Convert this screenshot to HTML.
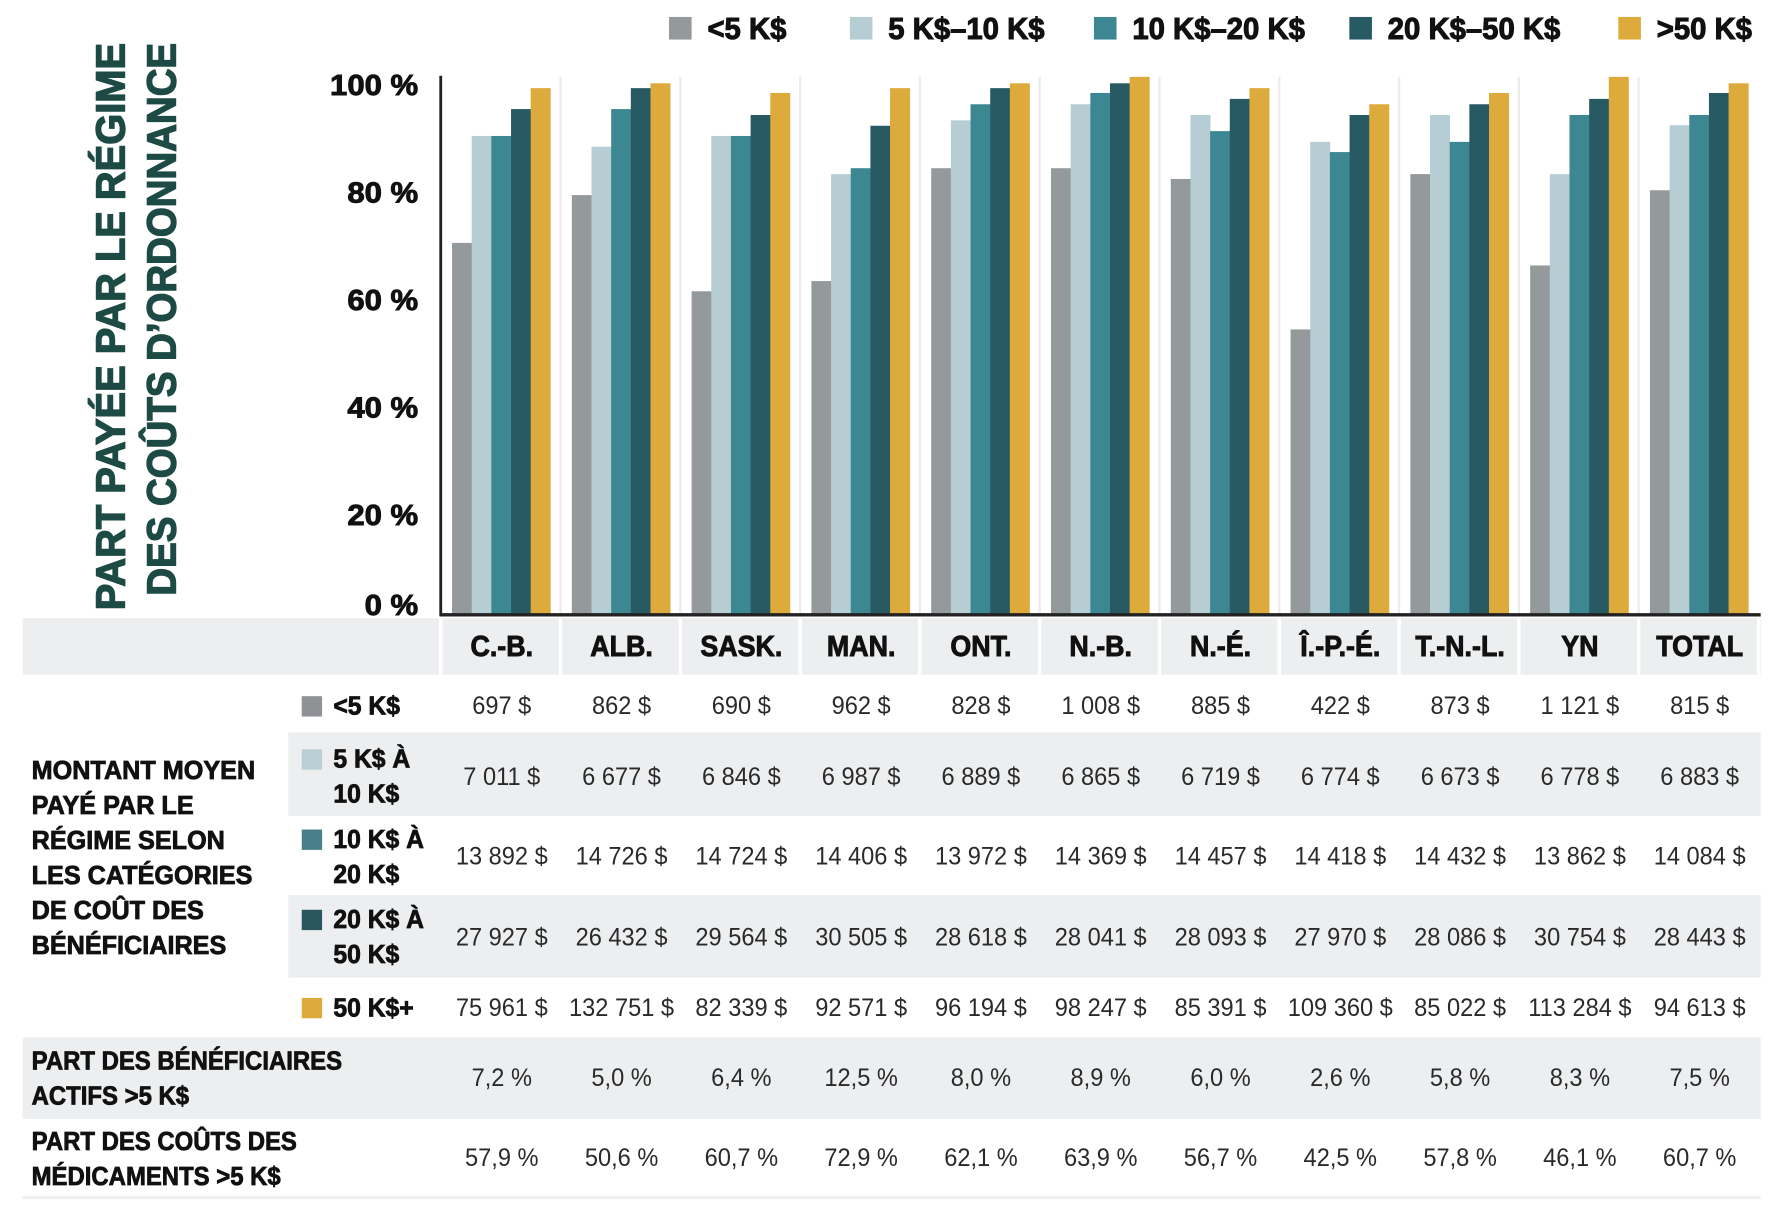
<!DOCTYPE html>
<html><head><meta charset="utf-8"><style>
html,body{margin:0;padding:0;background:#fff;width:1772px;height:1207px;overflow:hidden}
svg{display:block}
text{font-family:"Liberation Sans",sans-serif}
</style></head><body>
<svg id="chart" width="1772" height="1207" viewBox="0 0 1568 1068" preserveAspectRatio="none" xmlns="http://www.w3.org/2000/svg"></svg>
<script>
const categories = ["C.-B.","ALB.","SASK.","MAN.","ONT.","N.-B.","N.-É.","Î.-P.-É.","T.-N.-L.","YN","TOTAL"];
const seriesNames = ["<5 K$","5 K$–10 K$","10 K$–20 K$","20 K$–50 K$",">50 K$"];
const sLt5 = [69.1,78.0,60.1,62.0,83.0,83.0,81.0,53.0,81.9,64.9,78.9];
const s5to10 = [89.0,87.0,89.0,81.9,91.9,94.9,92.9,87.9,92.9,81.9,91.0];
const s10to20 = [89.0,94.0,89.0,83.0,94.9,97.0,89.9,86.0,87.9,92.9,92.9];
const s20to50 = [94.0,97.9,92.9,90.9,97.9,98.8,95.9,92.9,94.9,95.9,97.0];
const sGt50 = [97.9,98.8,97.0,97.9,98.8,100,97.9,94.9,97.0,100,98.8];
const yTicks = [0,20,40,60,80,100];
const yTickLabels = ["0 %","20 %","40 %","60 %","80 %","100 %"];
const avgLt5 = ["697 $","862 $","690 $","962 $","828 $","1 008 $","885 $","422 $","873 $","1 121 $","815 $"];
const avg5to10 = ["7 011 $","6 677 $","6 846 $","6 987 $","6 889 $","6 865 $","6 719 $","6 774 $","6 673 $","6 778 $","6 883 $"];
const avg10to20 = ["13 892 $","14 726 $","14 724 $","14 406 $","13 972 $","14 369 $","14 457 $","14 418 $","14 432 $","13 862 $","14 084 $"];
const avg20to50 = ["27 927 $","26 432 $","29 564 $","30 505 $","28 618 $","28 041 $","28 093 $","27 970 $","28 086 $","30 754 $","28 443 $"];
const avgGt50 = ["75 961 $","132 751 $","82 339 $","92 571 $","96 194 $","98 247 $","85 391 $","109 360 $","85 022 $","113 284 $","94 613 $"];
const shareBenef = ["7,2 %","5,0 %","6,4 %","12,5 %","8,0 %","8,9 %","6,0 %","2,6 %","5,8 %","8,3 %","7,5 %"];
const shareCosts = ["57,9 %","50,6 %","60,7 %","72,9 %","62,1 %","63,9 %","56,7 %","42,5 %","57,8 %","46,1 %","60,7 %"];

const colors = ["#949a9c","#b5cdd3","#3d8793","#285a63","#dcab3c"];
const allSeries = [sLt5,s5to10,s10to20,s20to50,sGt50];
const NS = "http://www.w3.org/2000/svg";
const svg = document.getElementById("chart");
const x0 = 391, gW = 106, baseY = 543.5, topY = 68;
function yScale(v){ return baseY - (baseY-topY)*v/100; }
function gX(i){ return x0 + gW*i; }
function el(tag, attrs, parent){
  const e = document.createElementNS(NS, tag);
  for (const k in attrs) e.setAttribute(k, attrs[k]);
  (parent||svg).appendChild(e); return e;
}
function txt(str, x, y, size, weight, anchor, sx, fill, parent, heavy){
  const g = el("g", {transform:`translate(${x},${y}) scale(${sx},1)`}, parent);
  const a = {x:0, y:0, "font-size":size, "font-weight":weight, "text-anchor":anchor, fill:fill||"#111", "dominant-baseline":"central"};
  if (heavy){ a.stroke = fill||"#111"; a["stroke-width"] = heavy; }
  const t = el("text", a, g);
  t.textContent = str; return t;
}

// Legend
const legX = [592,752,968,1194,1432];
seriesNames.forEach((n,i)=>{
  const r = el("rect",{x:legX[i],y:15,width:20,height:20,fill:colors[i]});
  
  
  const t = txt(n, legX[i]+34, 26, 27, "bold", "start", 0.96, "#111", svg, 0.9);
  
  
});

// Y title
const yt = el("g",{});


[["PART PAYÉE PAR LE RÉGIME",98,38,540],["DES COÛTS D’ORDONNANCE",143,38,527]].forEach(([s,x,yTop,yBot])=>{
  const t = el("text",{x:0,y:0,transform:`translate(${x},${yBot}) rotate(-90)`,"font-size":36,"font-weight":"bold",fill:"#1d4a44",stroke:"#1d4a44","stroke-width":1.2,"dominant-baseline":"central",textLength:(yBot-yTop),lengthAdjust:"spacingAndGlyphs"}, yt);
  t.textContent = s;
});

for (let i=1;i<categories.length;i++){
  const l = el("line",{x1:gX(i)-1,x2:gX(i)-1,y1:topY,y2:baseY,stroke:"#ececec","stroke-width":2});
  
  
}
yTicks.forEach((v,i)=>{
  const y = v===0 ? 536 : yScale(v)+8;
  const t = txt(yTickLabels[i], 370, y, 25, "bold", "end", 1.1, "#111", svg, 0.8);
  
  
});
const bw = 17.4;
categories.forEach((c,i)=>{
  allSeries.forEach((s,j)=>{
    const y = yScale(s[i]);
    const r = el("rect",{x:gX(i)+9+bw*j,y:y,width:bw+0.3,height:baseY-y,fill:colors[j]});
    
    
  });
});
const ax = el("line",{x1:390,x2:390,y1:67,y2:545,stroke:"#222","stroke-width":2.5});


const bx = el("line",{x1:389,x2:1558,y1:544,y2:544,stroke:"#222","stroke-width":3});



// Table
const tbl = el("g",{});


el("rect",{x:20,y:547,width:1538,height:50,fill:"#eceef0"},tbl);
for (let i=0;i<=categories.length;i++) el("rect",{x:gX(i)-2.5,y:547,width:3,height:50,fill:"#fff"},tbl);
categories.forEach((c,i)=>{
  const t = txt(c, gX(i)+gW/2, 572, 25, "bold", "middle", 0.95, "#111", tbl, 0.8);
  
  
});
el("rect",{x:255,y:648,width:1303,height:74,fill:"#eceef0"},tbl);
el("rect",{x:255,y:792,width:1303,height:73,fill:"#eceef0"},tbl);
el("rect",{x:20,y:918,width:1538,height:72,fill:"#eceef0"},tbl);
el("rect",{x:20,y:1058,width:1538,height:3,fill:"#eceef0"},tbl);

const rows = [
  {vals:avgLt5, y:625, lab:["<5 K$"], ly:[625], sw:0},
  {vals:avg5to10, y:688, lab:["5 K$ À","10 K$"], ly:[672,703], sw:1},
  {vals:avg10to20, y:758, lab:["10 K$ À","20 K$"], ly:[743,774], sw:2},
  {vals:avg20to50, y:830, lab:["20 K$ À","50 K$"], ly:[814,845], sw:3},
  {vals:avgGt50, y:892, lab:["50 K$+"], ly:[892], sw:4},
  {vals:shareBenef, y:954, lab:["PART DES BÉNÉFICIAIRES","ACTIFS >5 K$"], ly:[939,970], sw:-1},
  {vals:shareCosts, y:1025, lab:["PART DES COÛTS DES","MÉDICAMENTS >5 K$"], ly:[1010,1041], sw:-1}
];
const swColors = ["#8e9294","#b9d0d6","#4a7e8a","#2a5660","#dcab3c"];
rows.forEach(r=>{
  if (r.sw>=0){
    const s = el("rect",{x:267,y:r.ly[0]-9,width:18,height:18,fill:swColors[r.sw]},tbl);
    
    
    r.lab.forEach((l,k)=>{
      const t = txt(l, 295, r.ly[k], 23, "bold", "start", 0.95, "#111", tbl, 0.7);
      
      
    });
  } else {
    r.lab.forEach((l,k)=>{
      const t = txt(l, 28, r.ly[k], 23, "bold", "start", 0.92, "#111", tbl, 0.7);
      
      
    });
  }
  r.vals.forEach((v,i)=>{
    const t = txt(v, gX(i)+gW/2, r.y, 22, "normal", "middle", 0.95, "#2a2a2a", tbl);
    
    
  });
});
["MONTANT MOYEN","PAYÉ PAR LE","RÉGIME SELON","LES CATÉGORIES","DE COÛT DES","BÉNÉFICIAIRES"].forEach((l,k)=>{
  const t = txt(l, 28, 682+31*k, 23, "bold", "start", 0.97, "#111", tbl, 0.7);
  
  
});
</script>
</body></html>
